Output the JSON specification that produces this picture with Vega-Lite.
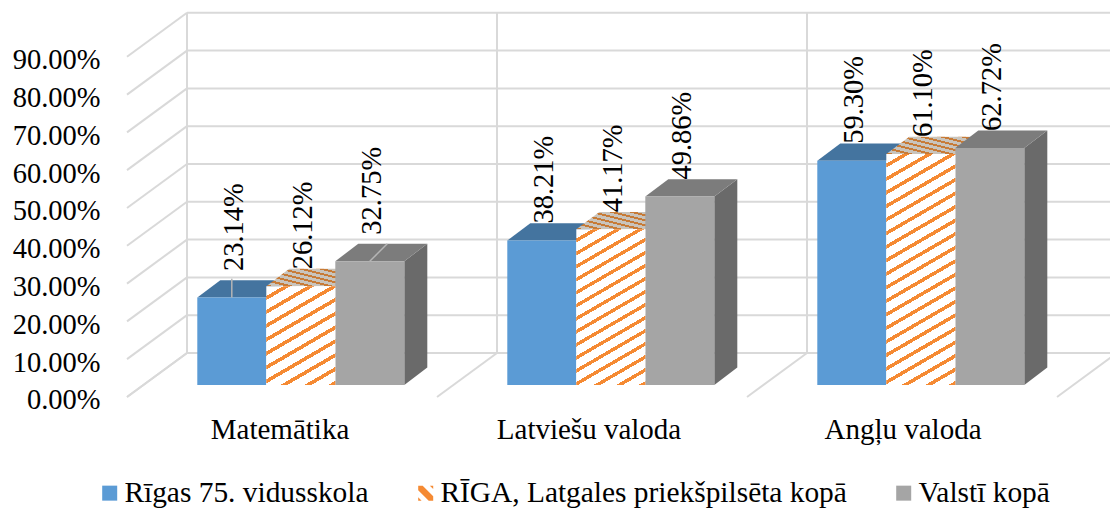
{
"$schema":"https://vega.github.io/schema/vega-lite/v6.json",
"width":1110,"height":510,"padding":0,"autosize":{"type":"none"},"background":"white",
"config":{"view":{"stroke":null}},
"resolve":{"axis":{"y":"independent"}},
"layer":[
{"data":{"values":[{"p":0},{"p":10},{"p":20},{"p":30},{"p":40},{"p":50},{"p":60},{"p":70},{"p":80},{"p":90}]},
 "transform":[{"calculate":"datum.p+8.47","as":"back"},{"calculate":"datum.p-3.17","as":"front"},{"calculate":"187","as":"xb"},{"calculate":"1110","as":"xe"},{"calculate":"127","as":"xf"}],
 "resolve":{"axis":{"y":"independent"}},
 "layer":[
 {"mark":{"type":"rule","color":"#d9d9d9","strokeWidth":2},
  "encoding":{"x":{"field":"xb","type":"quantitative","scale":{"domain":[0,1110],"nice":false,"zero":false},"axis":null},"x2":{"field":"xe"},
   "y":{"field":"back","type":"quantitative","scale":{"domain":[-33.07,101.85],"nice":false,"zero":false},"axis":null}}},
 {"mark":{"type":"rule","color":"#d9d9d9","strokeWidth":2},
  "encoding":{"x":{"field":"xf","type":"quantitative","scale":{"domain":[0,1110],"nice":false,"zero":false},"axis":null},"x2":{"field":"xb"},
   "y":{"field":"front","type":"quantitative","scale":{"domain":[-33.07,101.85],"nice":false,"zero":false},"axis":null},"y2":{"field":"back"}}},
 {"mark":{"type":"text","opacity":0},
  "encoding":{"x":{"field":"xb","type":"quantitative","scale":{"domain":[0,1110],"nice":false,"zero":false},"axis":null},
   "y":{"field":"p","type":"quantitative","scale":{"domain":[-33.07,101.85],"nice":false,"zero":false},
    "axis":{"values":[0,10,20,30,40,50,60,70,80,90],"labelExpr":"format(datum.value,'.2f')+'%'","orient":"left","offset":-100,"domain":false,"ticks":false,"grid":false,"title":null,"labelPadding":0,"labelOffset":15,"labelFont":"Liberation Serif","labelFontSize":28.5,"labelColor":"#000000","labelOverlap":false,"labelBound":false,"labelFlush":false}}}}
 ]},
{"data":{"values":[{"i":0},{"i":1},{"i":2},{"i":3}]},
 "transform":[{"calculate":"127+310*datum.i","as":"xf"},{"calculate":"187+310*datum.i","as":"xb"},{"calculate":"-3.17","as":"front"},{"calculate":"8.47","as":"back"},{"calculate":"98.47","as":"top"}],
 "layer":[
 {"mark":{"type":"rule","color":"#d9d9d9","strokeWidth":2,"clip":true},
  "encoding":{"x":{"field":"xf","type":"quantitative","scale":{"domain":[0,1110],"nice":false,"zero":false},"axis":null},"x2":{"field":"xb"},
   "y":{"field":"front","type":"quantitative","scale":{"domain":[-33.07,101.85],"nice":false,"zero":false},"axis":null},"y2":{"field":"back"}}},
 {"mark":{"type":"rule","color":"#d9d9d9","strokeWidth":2,"clip":true},
  "encoding":{"x":{"field":"xb","type":"quantitative","scale":{"domain":[0,1110],"nice":false,"zero":false},"axis":null},
   "y":{"field":"back","type":"quantitative","scale":{"domain":[-33.07,101.85],"nice":false,"zero":false},"axis":null},"y2":{"field":"top"}}}
 ]},
{"data":{"values":[
 {"category":"Matemātika","series":"Rīgas 75. vidusskola","value":23.14},
 {"category":"Matemātika","series":"RĪGA, Latgales priekšpilsēta kopā","value":26.12},
 {"category":"Matemātika","series":"Valstī kopā","value":32.75},
 {"category":"Latviešu valoda","series":"Rīgas 75. vidusskola","value":38.21},
 {"category":"Latviešu valoda","series":"RĪGA, Latgales priekšpilsēta kopā","value":41.17},
 {"category":"Latviešu valoda","series":"Valstī kopā","value":49.86},
 {"category":"Angļu valoda","series":"Rīgas 75. vidusskola","value":59.30},
 {"category":"Angļu valoda","series":"RĪGA, Latgales priekšpilsēta kopā","value":61.10},
 {"category":"Angļu valoda","series":"Valstī kopā","value":62.72}]},
 "transform":[
 {"calculate":"indexof(['Matemātika','Latviešu valoda','Angļu valoda'],datum.category)","as":"ci"},
 {"calculate":"indexof(['Rīgas 75. vidusskola','RĪGA, Latgales priekšpilsēta kopā','Valstī kopā'],datum.series)","as":"si"},
 {"calculate":"197.3+310*datum.ci+69*datum.si","as":"x0"},
 {"calculate":"datum.x0+69","as":"x1"},
 {"calculate":"0","as":"base"},
 {"calculate":"[0,1]","as":"corner"}
 ],
 "layer":[
 {"mark":{"type":"point","filled":true,"opacity":1},
  "encoding":{"x":{"field":"x0","type":"quantitative","scale":{"domain":[0,1110],"nice":false,"zero":false},"axis":null},
   "y":{"field":"base","type":"quantitative","scale":{"domain":[-33.07,101.85],"nice":false,"zero":false},"axis":null},
   "size":{"value":0},
   "color":{"field":"series","type":"nominal","scale":{"domain":["Rīgas 75. vidusskola","RĪGA, Latgales priekšpilsēta kopā","Valstī kopā"],"range":["#5b9bd5","#f58a33","#a5a5a5"]},
    "legend":{"title":null,"orient":"none","legendX":95,"legendY":478,"direction":"horizontal","columns":3,"columnPadding":42,"padding":0,"symbolSize":225,"symbolStrokeWidth":0,"labelFont":"Liberation Serif","labelFontSize":29.4,"labelColor":"#000000","labelLimit":600,"labelOffset":0}},
   "shape":{"field":"series","type":"nominal","scale":{"domain":["Rīgas 75. vidusskola","RĪGA, Latgales priekšpilsēta kopā","Valstī kopā"],"range":["square","M-1,-1L-0.4,-1L1,0.4L1,1L0.4,1L-1,-0.4ZM-1,0.55L-0.55,1L-1,1ZM0.55,-1L1,-1L1,-0.55Z","square"]},
    "legend":{"title":null,"orient":"none","legendX":95,"legendY":478,"direction":"horizontal","columns":3,"columnPadding":42,"padding":0,"symbolSize":225,"symbolStrokeWidth":0,"labelFont":"Liberation Serif","labelFontSize":29.4,"labelColor":"#000000","labelLimit":600,"labelOffset":0}}}},
 {"transform":[{"filter":"datum.si===2"},{"flatten":["corner"]},{"calculate":"datum.x1+datum.corner*23","as":"sx"},{"calculate":"datum.corner*4.6","as":"sl"},{"calculate":"datum.value+datum.corner*4.6","as":"sh"}],
  "mark":{"type":"area","color":"#6a6a6a"},
  "encoding":{"x":{"field":"sx","type":"quantitative","scale":{"domain":[0,1110],"nice":false,"zero":false},"axis":null},
   "y":{"field":"sh","type":"quantitative","scale":{"domain":[-33.07,101.85],"nice":false,"zero":false},"axis":null},"y2":{"field":"sl"},"detail":{"field":"category"}}},
 {"transform":[{"filter":"datum.si===0"},{"flatten":["corner"]},{"calculate":"datum.x0+datum.corner*23","as":"tx"},{"calculate":"datum.x1+datum.corner*23","as":"tx2"},{"calculate":"datum.value+datum.corner*4.6","as":"ty"}],
  "mark":{"type":"area","orient":"horizontal","color":"#44749f"},
  "encoding":{"x":{"field":"tx","type":"quantitative","scale":{"domain":[0,1110],"nice":false,"zero":false},"axis":null},"x2":{"field":"tx2"},
   "y":{"field":"ty","type":"quantitative","scale":{"domain":[-33.07,101.85],"nice":false,"zero":false},"axis":null},"detail":{"field":"category"}}},
 {"transform":[{"filter":"datum.si===1"},{"flatten":["corner"]},{"calculate":"datum.x0+datum.corner*23","as":"tx"},{"calculate":"datum.x1+datum.corner*23","as":"tx2"},{"calculate":"datum.value+datum.corner*4.6","as":"ty"}],
  "mark":{"type":"area","orient":"horizontal","fill":{"gradient":"linear","x1":1,"y1":0,"x2":-0.117,"y2":0.845,"stops":[
   {"offset":0,"color":"#c9c4bc"},{"offset":0.075,"color":"#c9c4bc"},{"offset":0.075,"color":"#c77b37"},{"offset":0.125,"color":"#c77b37"},
   {"offset":0.125,"color":"#c9c4bc"},{"offset":0.2,"color":"#c9c4bc"},{"offset":0.2,"color":"#c77b37"},{"offset":0.25,"color":"#c77b37"},
   {"offset":0.25,"color":"#c9c4bc"},{"offset":0.325,"color":"#c9c4bc"},{"offset":0.325,"color":"#c77b37"},{"offset":0.375,"color":"#c77b37"},
   {"offset":0.375,"color":"#c9c4bc"},{"offset":0.45,"color":"#c9c4bc"},{"offset":0.45,"color":"#c77b37"},{"offset":0.5,"color":"#c77b37"},
   {"offset":0.5,"color":"#c9c4bc"},{"offset":0.575,"color":"#c9c4bc"},{"offset":0.575,"color":"#c77b37"},{"offset":0.625,"color":"#c77b37"},
   {"offset":0.625,"color":"#c9c4bc"},{"offset":0.7,"color":"#c9c4bc"},{"offset":0.7,"color":"#c77b37"},{"offset":0.75,"color":"#c77b37"},
   {"offset":0.75,"color":"#c9c4bc"},{"offset":0.825,"color":"#c9c4bc"},{"offset":0.825,"color":"#c77b37"},{"offset":0.875,"color":"#c77b37"},
   {"offset":0.875,"color":"#c9c4bc"},{"offset":0.95,"color":"#c9c4bc"},{"offset":0.95,"color":"#c77b37"},{"offset":1,"color":"#c77b37"}]}},
  "encoding":{"x":{"field":"tx","type":"quantitative","scale":{"domain":[0,1110],"nice":false,"zero":false},"axis":null},"x2":{"field":"tx2"},
   "y":{"field":"ty","type":"quantitative","scale":{"domain":[-33.07,101.85],"nice":false,"zero":false},"axis":null},"detail":{"field":"category"}}},
 {"transform":[{"filter":"datum.si===2"},{"flatten":["corner"]},{"calculate":"datum.x0+datum.corner*23","as":"tx"},{"calculate":"datum.x1+datum.corner*23","as":"tx2"},{"calculate":"datum.value+datum.corner*4.6","as":"ty"}],
  "mark":{"type":"area","orient":"horizontal","color":"#7c7c7c"},
  "encoding":{"x":{"field":"tx","type":"quantitative","scale":{"domain":[0,1110],"nice":false,"zero":false},"axis":null},"x2":{"field":"tx2"},
   "y":{"field":"ty","type":"quantitative","scale":{"domain":[-33.07,101.85],"nice":false,"zero":false},"axis":null},"detail":{"field":"category"}}},
 {"transform":[{"filter":"datum.si===0"}],
  "mark":{"type":"rect","color":"#5b9bd5"},
  "encoding":{"x":{"field":"x0","type":"quantitative","scale":{"domain":[0,1110],"nice":false,"zero":false},"axis":null},"x2":{"field":"x1"},
   "y":{"field":"value","type":"quantitative","scale":{"domain":[-33.07,101.85],"nice":false,"zero":false},"axis":null},"y2":{"field":"base"}}},
 {"transform":[{"filter":"datum.si===2"}],
  "mark":{"type":"rect","color":"#a5a5a5"},
  "encoding":{"x":{"field":"x0","type":"quantitative","scale":{"domain":[0,1110],"nice":false,"zero":false},"axis":null},"x2":{"field":"x1"},
   "y":{"field":"value","type":"quantitative","scale":{"domain":[-33.07,101.85],"nice":false,"zero":false},"axis":null},"y2":{"field":"base"}}},
 {"transform":[{"filter":"datum.si===1&&datum.ci===0"}],
  "mark":{"type":"rect","fill":{"gradient":"linear","x1":0,"y1":0,"x2":0.489,"y2":1.207,"stops":[
   {"offset":0,"color":"#fff"},{"offset":0.07,"color":"#fff"},{"offset":0.07,"color":"#f58a33"},{"offset":0.1,"color":"#f58a33"},
   {"offset":0.1,"color":"#fff"},{"offset":0.17,"color":"#fff"},{"offset":0.17,"color":"#f58a33"},{"offset":0.2,"color":"#f58a33"},
   {"offset":0.2,"color":"#fff"},{"offset":0.27,"color":"#fff"},{"offset":0.27,"color":"#f58a33"},{"offset":0.3,"color":"#f58a33"},
   {"offset":0.3,"color":"#fff"},{"offset":0.37,"color":"#fff"},{"offset":0.37,"color":"#f58a33"},{"offset":0.4,"color":"#f58a33"},
   {"offset":0.4,"color":"#fff"},{"offset":0.47,"color":"#fff"},{"offset":0.47,"color":"#f58a33"},{"offset":0.5,"color":"#f58a33"},
   {"offset":0.5,"color":"#fff"},{"offset":0.57,"color":"#fff"},{"offset":0.57,"color":"#f58a33"},{"offset":0.6,"color":"#f58a33"},
   {"offset":0.6,"color":"#fff"},{"offset":0.67,"color":"#fff"},{"offset":0.67,"color":"#f58a33"},{"offset":0.7,"color":"#f58a33"},
   {"offset":0.7,"color":"#fff"},{"offset":0.77,"color":"#fff"},{"offset":0.77,"color":"#f58a33"},{"offset":0.8,"color":"#f58a33"},
   {"offset":0.8,"color":"#fff"},{"offset":0.87,"color":"#fff"},{"offset":0.87,"color":"#f58a33"},{"offset":0.9,"color":"#f58a33"},
   {"offset":0.9,"color":"#fff"},{"offset":0.97,"color":"#fff"},{"offset":0.97,"color":"#f58a33"},{"offset":1,"color":"#f58a33"}]}},
  "encoding":{"x":{"field":"x0","type":"quantitative","scale":{"domain":[0,1110],"nice":false,"zero":false},"axis":null},"x2":{"field":"x1"},
   "y":{"field":"value","type":"quantitative","scale":{"domain":[-33.07,101.85],"nice":false,"zero":false},"axis":null},"y2":{"field":"base"}}},
 {"transform":[{"filter":"datum.si===1&&datum.ci===1"}],
  "mark":{"type":"rect","fill":{"gradient":"linear","x1":0,"y1":0,"x2":0.303,"y2":1.179,"stops":[
   {"offset":0,"color":"#fff"},{"offset":0.0467,"color":"#fff"},{"offset":0.0467,"color":"#f58a33"},{"offset":0.0667,"color":"#f58a33"},
   {"offset":0.0667,"color":"#fff"},{"offset":0.1133,"color":"#fff"},{"offset":0.1133,"color":"#f58a33"},{"offset":0.1333,"color":"#f58a33"},
   {"offset":0.1333,"color":"#fff"},{"offset":0.18,"color":"#fff"},{"offset":0.18,"color":"#f58a33"},{"offset":0.2,"color":"#f58a33"},
   {"offset":0.2,"color":"#fff"},{"offset":0.2467,"color":"#fff"},{"offset":0.2467,"color":"#f58a33"},{"offset":0.2667,"color":"#f58a33"},
   {"offset":0.2667,"color":"#fff"},{"offset":0.3133,"color":"#fff"},{"offset":0.3133,"color":"#f58a33"},{"offset":0.3333,"color":"#f58a33"},
   {"offset":0.3333,"color":"#fff"},{"offset":0.38,"color":"#fff"},{"offset":0.38,"color":"#f58a33"},{"offset":0.4,"color":"#f58a33"},
   {"offset":0.4,"color":"#fff"},{"offset":0.4467,"color":"#fff"},{"offset":0.4467,"color":"#f58a33"},{"offset":0.4667,"color":"#f58a33"},
   {"offset":0.4667,"color":"#fff"},{"offset":0.5133,"color":"#fff"},{"offset":0.5133,"color":"#f58a33"},{"offset":0.5333,"color":"#f58a33"},
   {"offset":0.5333,"color":"#fff"},{"offset":0.58,"color":"#fff"},{"offset":0.58,"color":"#f58a33"},{"offset":0.6,"color":"#f58a33"},
   {"offset":0.6,"color":"#fff"},{"offset":0.6467,"color":"#fff"},{"offset":0.6467,"color":"#f58a33"},{"offset":0.6667,"color":"#f58a33"},
   {"offset":0.6667,"color":"#fff"},{"offset":0.7133,"color":"#fff"},{"offset":0.7133,"color":"#f58a33"},{"offset":0.7333,"color":"#f58a33"},
   {"offset":0.7333,"color":"#fff"},{"offset":0.78,"color":"#fff"},{"offset":0.78,"color":"#f58a33"},{"offset":0.8,"color":"#f58a33"},
   {"offset":0.8,"color":"#fff"},{"offset":0.8467,"color":"#fff"},{"offset":0.8467,"color":"#f58a33"},{"offset":0.8667,"color":"#f58a33"},
   {"offset":0.8667,"color":"#fff"},{"offset":0.9133,"color":"#fff"},{"offset":0.9133,"color":"#f58a33"},{"offset":0.9333,"color":"#f58a33"},
   {"offset":0.9333,"color":"#fff"},{"offset":0.98,"color":"#fff"},{"offset":0.98,"color":"#f58a33"},{"offset":1,"color":"#f58a33"}]}},
  "encoding":{"x":{"field":"x0","type":"quantitative","scale":{"domain":[0,1110],"nice":false,"zero":false},"axis":null},"x2":{"field":"x1"},
   "y":{"field":"value","type":"quantitative","scale":{"domain":[-33.07,101.85],"nice":false,"zero":false},"axis":null},"y2":{"field":"base"}}},
 {"transform":[{"filter":"datum.si===1&&datum.ci===2"}],
  "mark":{"type":"rect","fill":{"gradient":"linear","x1":0,"y1":0,"x2":0.197,"y2":1.139,"stops":[
   {"offset":0,"color":"#fff"},{"offset":0.035,"color":"#fff"},{"offset":0.035,"color":"#f58a33"},{"offset":0.05,"color":"#f58a33"},
   {"offset":0.05,"color":"#fff"},{"offset":0.085,"color":"#fff"},{"offset":0.085,"color":"#f58a33"},{"offset":0.1,"color":"#f58a33"},
   {"offset":0.1,"color":"#fff"},{"offset":0.135,"color":"#fff"},{"offset":0.135,"color":"#f58a33"},{"offset":0.15,"color":"#f58a33"},
   {"offset":0.15,"color":"#fff"},{"offset":0.185,"color":"#fff"},{"offset":0.185,"color":"#f58a33"},{"offset":0.2,"color":"#f58a33"},
   {"offset":0.2,"color":"#fff"},{"offset":0.235,"color":"#fff"},{"offset":0.235,"color":"#f58a33"},{"offset":0.25,"color":"#f58a33"},
   {"offset":0.25,"color":"#fff"},{"offset":0.285,"color":"#fff"},{"offset":0.285,"color":"#f58a33"},{"offset":0.3,"color":"#f58a33"},
   {"offset":0.3,"color":"#fff"},{"offset":0.335,"color":"#fff"},{"offset":0.335,"color":"#f58a33"},{"offset":0.35,"color":"#f58a33"},
   {"offset":0.35,"color":"#fff"},{"offset":0.385,"color":"#fff"},{"offset":0.385,"color":"#f58a33"},{"offset":0.4,"color":"#f58a33"},
   {"offset":0.4,"color":"#fff"},{"offset":0.435,"color":"#fff"},{"offset":0.435,"color":"#f58a33"},{"offset":0.45,"color":"#f58a33"},
   {"offset":0.45,"color":"#fff"},{"offset":0.485,"color":"#fff"},{"offset":0.485,"color":"#f58a33"},{"offset":0.5,"color":"#f58a33"},
   {"offset":0.5,"color":"#fff"},{"offset":0.535,"color":"#fff"},{"offset":0.535,"color":"#f58a33"},{"offset":0.55,"color":"#f58a33"},
   {"offset":0.55,"color":"#fff"},{"offset":0.585,"color":"#fff"},{"offset":0.585,"color":"#f58a33"},{"offset":0.6,"color":"#f58a33"},
   {"offset":0.6,"color":"#fff"},{"offset":0.635,"color":"#fff"},{"offset":0.635,"color":"#f58a33"},{"offset":0.65,"color":"#f58a33"},
   {"offset":0.65,"color":"#fff"},{"offset":0.685,"color":"#fff"},{"offset":0.685,"color":"#f58a33"},{"offset":0.7,"color":"#f58a33"},
   {"offset":0.7,"color":"#fff"},{"offset":0.735,"color":"#fff"},{"offset":0.735,"color":"#f58a33"},{"offset":0.75,"color":"#f58a33"},
   {"offset":0.75,"color":"#fff"},{"offset":0.785,"color":"#fff"},{"offset":0.785,"color":"#f58a33"},{"offset":0.8,"color":"#f58a33"},
   {"offset":0.8,"color":"#fff"},{"offset":0.835,"color":"#fff"},{"offset":0.835,"color":"#f58a33"},{"offset":0.85,"color":"#f58a33"},
   {"offset":0.85,"color":"#fff"},{"offset":0.885,"color":"#fff"},{"offset":0.885,"color":"#f58a33"},{"offset":0.9,"color":"#f58a33"},
   {"offset":0.9,"color":"#fff"},{"offset":0.935,"color":"#fff"},{"offset":0.935,"color":"#f58a33"},{"offset":0.95,"color":"#f58a33"},
   {"offset":0.95,"color":"#fff"},{"offset":0.985,"color":"#fff"},{"offset":0.985,"color":"#f58a33"},{"offset":1,"color":"#f58a33"}]}},
  "encoding":{"x":{"field":"x0","type":"quantitative","scale":{"domain":[0,1110],"nice":false,"zero":false},"axis":null},"x2":{"field":"x1"},
   "y":{"field":"value","type":"quantitative","scale":{"domain":[-33.07,101.85],"nice":false,"zero":false},"axis":null},"y2":{"field":"base"}}},
 {"transform":[{"filter":"datum.ci===0&&datum.si===0"},{"calculate":"datum.x0+34.5","as":"lx"},{"calculate":"datum.value+5","as":"ly"}],
  "mark":{"type":"rule","color":"#b5b5b5","strokeWidth":1.5},
  "encoding":{"x":{"field":"lx","type":"quantitative","scale":{"domain":[0,1110],"nice":false,"zero":false},"axis":null},
   "y":{"field":"value","type":"quantitative","scale":{"domain":[-33.07,101.85],"nice":false,"zero":false},"axis":null},"y2":{"field":"ly"}}},
 {"transform":[{"filter":"datum.ci===0&&datum.si===2"},{"calculate":"datum.x0+34.5","as":"lx"},{"calculate":"datum.x0+52","as":"lx2"},{"calculate":"datum.value+4.6","as":"ly"}],
  "mark":{"type":"rule","color":"#b5b5b5","strokeWidth":1.5},
  "encoding":{"x":{"field":"lx","type":"quantitative","scale":{"domain":[0,1110],"nice":false,"zero":false},"axis":null},"x2":{"field":"lx2"},
   "y":{"field":"value","type":"quantitative","scale":{"domain":[-33.07,101.85],"nice":false,"zero":false},"axis":null},"y2":{"field":"ly"}}},
 {"transform":[{"calculate":"datum.x0+36.5","as":"lx"},{"calculate":"datum.value+((datum.ci===0&&datum.si!==1)?7:4.5)","as":"ly"},{"calculate":"format(datum.value,'.2f')+'%'","as":"lab"}],
  "mark":{"type":"text","angle":270,"align":"left","baseline":"middle","font":"Liberation Serif","fontSize":28.5,"color":"#000000"},
  "encoding":{"x":{"field":"lx","type":"quantitative","scale":{"domain":[0,1110],"nice":false,"zero":false},"axis":null},
   "y":{"field":"ly","type":"quantitative","scale":{"domain":[-33.07,101.85],"nice":false,"zero":false},"axis":null},"text":{"field":"lab"}}},
 {"transform":[{"filter":"datum.si===1"},{"calculate":"[280,589,903][datum.ci]","as":"cx"},{"calculate":"-11.9","as":"cy"}],
  "mark":{"type":"text","align":"center","baseline":"middle","font":"Liberation Serif","fontSize":29,"color":"#000000"},
  "encoding":{"x":{"field":"cx","type":"quantitative","scale":{"domain":[0,1110],"nice":false,"zero":false},"axis":null},
   "y":{"field":"cy","type":"quantitative","scale":{"domain":[-33.07,101.85],"nice":false,"zero":false},"axis":null},"text":{"field":"category"}}}
 ]}
]}
